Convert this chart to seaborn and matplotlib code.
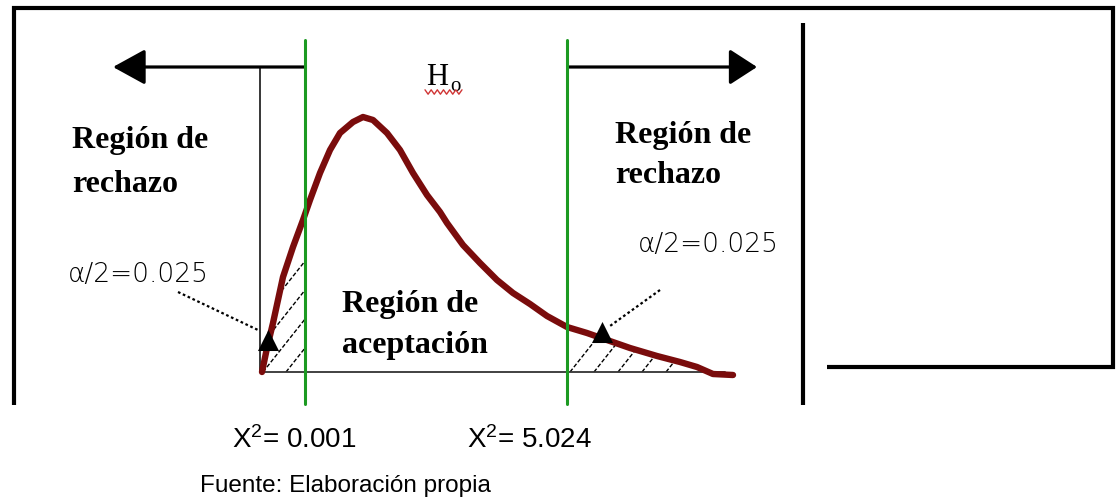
import numpy as np
import pandas as pd
import matplotlib
matplotlib.use("Agg")
import matplotlib.pyplot as plt
import seaborn as sns

# ---- values (diagram units: x to the right, y = height above the baseline)
curve_x = [262, 267, 273, 283, 293, 303, 310, 320, 330, 340, 353, 363, 373, 387, 400, 413,
           427, 440, 447, 463, 480, 497, 513, 530, 547, 567, 587, 607, 630, 657, 680, 697, 713, 733]
curve_h = [0, 24, 49, 95, 125, 152, 172, 199, 222, 239, 250, 255, 252, 239, 222, 199,
           177, 160, 149, 127, 109, 92, 79, 68, 56, 45, 39, 32, 24, 16, 10, 5, -2, -3]

crit_pos = [305, 567]                      # positions of the two critical values
crit_labels = ["X$^{2}$= 0.001", "X$^{2}$= 5.024"]
alpha_labels = ["α/2=0.025", "α/2=0.025"]
region_reject = ["Región de", "rechazo"]
region_accept = ["Región de", "aceptación"]
hypothesis = ["H", "o"]
source_note = "Fuente: Elaboración propia"

sns.set_theme(style="white")
plt.rcParams["font.family"] = ["Liberation Sans", "DejaVu Sans"]
plt.rcParams["text.color"] = "black"
plt.rcParams["mathtext.fontset"] = "custom"
plt.rcParams["mathtext.rm"] = "Liberation Sans"
plt.rcParams["mathtext.default"] = "regular"

fig = plt.figure(figsize=(11.2, 5), dpi=100)
ax = fig.add_axes([0, 0, 1, 1])
ax.set_xlim(0, 1120)
ax.set_ylim(-128, 372)
ax.axis("off")

df = pd.DataFrame({"x": curve_x, "h": curve_h})

# region under the curve (used as clip for the hatching)
under = ax.fill_between(df["x"], df["h"], 0, color="none", lw=0)
clip_path = under.get_paths()[0]

slope = 1.26
def hatch(x0_list, xa, xb):
    for x0 in x0_list:
        xs = max(x0, xa)
        xe = xb
        ln, = ax.plot([xs, xe], [slope * (xs - x0), slope * (xe - x0)], color="black",
                      lw=1.0, ls=(0, (3, 1.5)), zorder=2)
        ln.set_clip_path(clip_path, ax.transData)

hatch([217, 240, 263, 286], 262, crit_pos[0])
hatch([570, 594, 618, 642, 666], crit_pos[1], 725)

# baseline and thin vertical
ax.plot([260, 725], [0, 0], color="#333333", lw=1.3, zorder=2)
ax.plot([260, 260], [305, 0], color="black", lw=1.1, zorder=2)

# curve
sns.lineplot(data=df, x="x", y="h", sort=False, estimator=None, color="#7a0c0c",
             linewidth=4.6, ax=ax, zorder=4)
ax.set_xlabel("")
ax.set_ylabel("")

# critical lines
for xp in crit_pos:
    ax.plot([xp, xp], [332, -32], color="#1c9a22", lw=2.2, zorder=5)

# arrows to the rejection regions
ax.annotate("", xy=(113, 305), xytext=(crit_pos[0] - 1, 305),
            arrowprops=dict(arrowstyle="-|>,head_length=1.0,head_width=0.55", lw=2.3,
                            color="black", shrinkA=0, shrinkB=0, mutation_scale=20))
ax.annotate("", xy=(757, 305), xytext=(crit_pos[1] + 1, 305),
            arrowprops=dict(arrowstyle="-|>,head_length=0.85,head_width=0.55", lw=2.3,
                            color="black", shrinkA=0, shrinkB=0, mutation_scale=20))

# alpha markers
ax.scatter([268, 602], [32, 40], marker="^", s=230, color="black", zorder=6, linewidths=0)
ax.plot([178, 258], [80, 42], color="black", lw=1.6, ls=(0, (1.2, 1.2)), zorder=6)
ax.plot([660, 610], [82, 46], color="black", lw=1.6, ls=(0, (1.2, 1.2)), zorder=6)

# frame
ax.plot([14, 14, 1113, 1113, 827], [-33, 364, 364, 5, 5], color="black", lw=3.0,
        solid_joinstyle="miter", solid_capstyle="butt", zorder=3)
ax.plot([803, 803], [349, -33], color="black", lw=3.0, solid_capstyle="butt", zorder=3)

# texts
serif_b = dict(family=["Liberation Serif", "DejaVu Serif"], weight="bold", fontsize=23,
               va="baseline", ha="left", color="black")
ax.text(72, 224, region_reject[0], **serif_b)
ax.text(72, 180, region_reject[1], **serif_b)
ax.text(615, 229, region_reject[0], **serif_b)
ax.text(615, 189, region_reject[1], **serif_b)
ax.text(342, 60, region_accept[0], **serif_b)
ax.text(342, 19, region_accept[1], **serif_b)

ax.text(426, 287, hypothesis[0], family=["Liberation Serif"], fontsize=22, va="baseline",
        color="black")
ax.text(450, 281, hypothesis[1], family=["Liberation Serif"], fontsize=15, va="baseline",
        color="black")
zz_x = np.linspace(425, 462, 13)
zz_y = 280 + np.where(np.arange(13) % 2 == 0, 2.2, -2.2)
ax.plot(zz_x, zz_y, color="#d03535", lw=1.0, zorder=6)

alpha_style = dict(family=["DejaVu Sans"], weight="light", fontsize=19, va="center",
                   ha="left", color="black")
ax.text(68, 97, alpha_labels[0], **alpha_style)
ax.text(638, 127, alpha_labels[1], **alpha_style)

ax.text(232, -68, crit_labels[0], fontsize=20, va="center", ha="left", color="black")
ax.text(467, -68, crit_labels[1], fontsize=20, va="center", ha="left", color="black")
ax.text(200, -114, source_note, fontsize=17.5, va="center", ha="left", color="black")

fig.savefig("out.png", dpi=100, facecolor="white")
